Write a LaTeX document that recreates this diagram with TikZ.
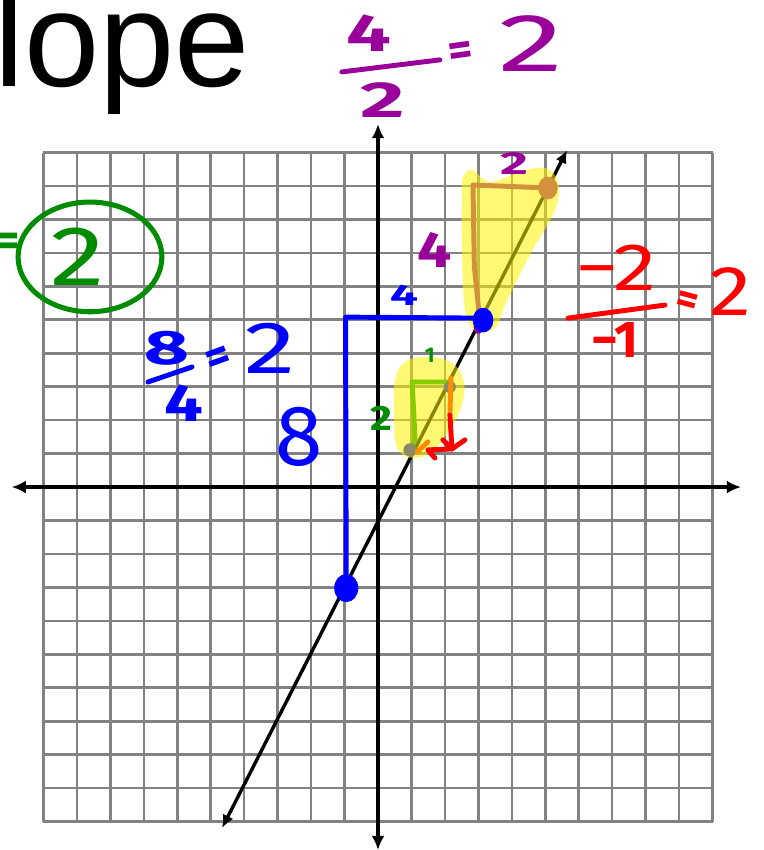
\documentclass[tikz,border=0pt]{standalone}
\usepackage{fontspec}
\usetikzlibrary{arrows.meta,calc}
\newfontfamily\titlefont{Liberation Sans}
\newfontfamily\handfont{Fira Sans}
\newcommand{\handsize}[1]{\fontsize{#1}{#1}\selectfont}
\definecolor{Purp}{HTML}{990099}
\definecolor{Grn}{HTML}{008C00}
\definecolor{Blu}{HTML}{0000FF}
\definecolor{Rd}{HTML}{FF0000}
\definecolor{Tan}{HTML}{D3913E}
\definecolor{Lime}{HTML}{88CC00}
\definecolor{Amber}{HTML}{FF8C00}
\definecolor{Pebble}{HTML}{8A8A6A}
\definecolor{GridGray}{HTML}{828282}

\begin{document}
\begin{tikzpicture}[x=1cm,y=1cm,
  gridline/.style={GridGray,line width=2.2pt},
  axisline/.style={black,line width=3.4pt,{Latex[length=12pt,width=11pt]}-{Latex[length=12pt,width=11pt]}},
  ink/.style={line width=4.2pt,line cap=round,line join=round},
  hand/.style={inner sep=0pt,font=\handfont\bfseries\handsize{#1}},
  handthin/.style={inner sep=0pt,font=\handfont\handsize{#1}},
  hilite/.style={fill=yellow,fill opacity=0.55}]
\useasboundingbox (-11.30,-10.85) rectangle (11.51,14.56);
% grid and axes
\draw[gridline] (-10,-10) grid (10,10);
\coordinate (xLeft) at (-10.95,0);
\coordinate (xRight) at (10.85,0);
\coordinate (yLow) at (0,-10.85);
\coordinate (yHigh) at (0,10.85);
\draw[axisline] (xLeft) -- (xRight);
\draw[axisline] (yLow) -- (yHigh);
% the line
\coordinate (lineLow) at (-4.66,-10.19);
\coordinate (lineHigh) at (5.65,10.07);
\draw[black,line width=2.9pt,{Latex[length=11pt,width=10pt]}-{Latex[length=11pt,width=10pt]}] (lineLow) -- (lineHigh);
% highlights
\fill[hilite] plot[smooth cycle,tension=0.6] coordinates {(2.54,9.27) (2.81,9.48) (3.35,9.12) (4.25,9.42) (4.99,9.54) (5.38,9.12) (5.29,8.28) (4.54,6.94) (3.80,5.44) (3.50,4.75) (2.90,4.69) (2.60,5.29) (2.51,7.09) (2.51,8.88)};
\fill[hilite] plot[smooth cycle,tension=0.6] coordinates {(0.51,3.20) (0.81,3.74) (1.46,3.89) (2.21,3.71) (2.57,3.14) (2.48,2.36) (2.09,1.64) (1.61,1.05) (1.02,0.87) (0.57,1.17) (0.48,2.15)};
% title
\node[inner sep=0pt,anchor=base west,font=\titlefont\handsize{115}] (title) at (-11.48,11.96) {lope};
% purple 4/2 = 2
\node[hand=45,text=Purp,xscale=1.5] (purNum) at (-0.27,13.57) {4};
\coordinate (purBarL) at (-1.08,12.41);
\coordinate (purBarR) at (1.85,12.77);
\draw[ink,Purp] (purBarL) -- (purBarR);
\node[hand=43,text=Purp,xscale=1.7] (purDen) at (0.15,11.57) {2};
\node[hand=40,text=Purp,rotate=8] (purEq) at (2.48,12.94) {=};
\node[handthin=70,text=Purp,xscale=1.6] (purRes) at (4.57,13.27) {2};
% green circled 2
\node[hand=40,text=Grn] (grnEq) at (-11.06,7.23) {=};
\draw[Grn,line width=4.3pt] (-8.61,6.88) ellipse (2.15 and 1.64);
\node[handthin=72,text=Grn,xscale=1.3] (grnRes) at (-8.97,6.88) {2};
% blue 8/4 = 2
\node[hand=41,text=Blu,xscale=1.6] (bluNum) at (-6.31,4.16) {8};
\coordinate (bluBarL) at (-6.88,3.14);
\coordinate (bluBarR) at (-5.56,3.59);
\draw[ink,Blu] (bluBarL) -- (bluBarR);
\node[hand=45,text=Blu,xscale=1.3] (bluDen) at (-5.80,2.51) {4};
\node[hand=40,text=Blu,rotate=20] (bluEq) at (-4.75,3.80) {=};
\node[handthin=63,text=Blu,xscale=1.4] (bluRes) at (-3.23,4.16) {2};
\node[handthin=73,text=Blu] (bluRise) at (-2.36,1.49) {8};
\node[hand=25,text=Blu,xscale=1.7] (bluRun) at (0.78,5.74) {4};
% blue rise and run
\coordinate (blueLow) at (-0.95,-3.02);
\coordinate (blueCorner) at (-0.97,5.08);
\coordinate (blueHigh) at (3.08,5.05);
\draw[ink,Blu] (blueLow) -- (blueCorner) -- (blueHigh);
% tan rise and run
\coordinate (tanLow) at (3.02,5.20);
\coordinate (tanCorner) at (2.84,9.03);
\coordinate (tanHigh) at (5.08,8.94);
\draw[ink,Tan] (tanLow) -- (2.88,6.6) -- (tanCorner) -- (tanHigh);
\fill[Tan] (tanHigh) ellipse (0.29 and 0.34);
\fill[Purp] (3.00,4.78) ellipse (0.14 and 0.2);
\fill[Blu] (blueLow) ellipse (0.36 and 0.42);
\fill[Blu] (3.14,4.99) ellipse (0.31 and 0.37);
\node[hand=27,text=Purp,xscale=1.7] (tanRun) at (4.07,9.66) {2};
\node[hand=43,text=Purp,xscale=1.2] (tanRise) at (1.70,7.09) {4};
% small rise and run
\coordinate (limeLow) at (0.96,1.11);
\coordinate (limeCorner) at (1.02,3.14);
\coordinate (limeHigh) at (2.18,3.14);
\draw[ink,Lime] (limeLow) -- (1.11,1.41) -- (limeCorner) -- (limeHigh);
\fill[Pebble] (limeLow) circle (0.2);
\fill[Pebble] (2.15,2.99) circle (0.18);
\draw[ink,Amber] (2.18,3.26) -- (2.15,2.15);
\coordinate (redTip) at (2.21,1.14);
\draw[ink,Rd] (2.15,2.15) -- (redTip);
\draw[ink,Rd] (1.94,1.41) -- (redTip) -- (2.60,1.41);
\draw[ink,Rd] (redTip) -- (1.49,1.11) -- (1.70,0.87);
\draw[ink,Amber] (1.17,1.05) -- (1.49,1.35);
\node[hand=18,text=Grn] (grnRun) at (1.55,3.95) {1};
\node[hand=30,text=Grn,xscale=1.2] (grnRise) at (0.09,2.06) {2};
% red -2/-1 = 2
\node[handthin=57,text=Rd,xscale=1.3] (redNum) at (7.12,6.55) {−2};
\coordinate (redBarL) at (5.68,5.05);
\coordinate (redBarR) at (8.58,5.44);
\draw[ink,Rd] (redBarL) -- (redBarR);
\node[hand=44,text=Rd] (redDen) at (7.09,4.39) {−1};
\node[hand=36,text=Rd,rotate=-15] (redEq) at (9.24,5.50) {=};
\node[handthin=60,text=Rd,xscale=1.2] (redRes) at (10.55,5.83) {2};
\end{tikzpicture}
\end{document}
